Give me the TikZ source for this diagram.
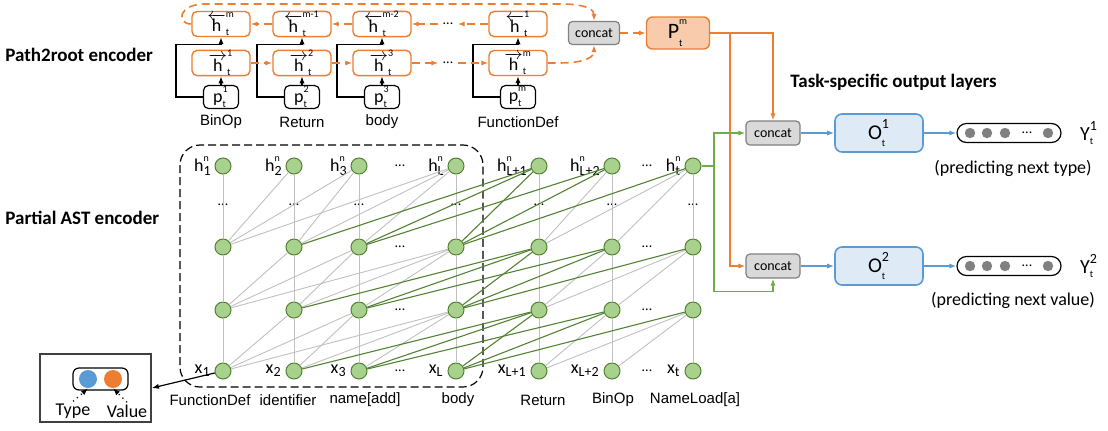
\documentclass[tikz,border=0pt]{standalone}
\usepackage{fontspec}
\setmainfont{Carlito}
\newfontfamily\arialfont{Liberation Sans}
\usetikzlibrary{arrows.meta,calc}
\definecolor{orng}{HTML}{ED7D31}
\definecolor{peach}{HTML}{F8CBAD}
\definecolor{leaf}{HTML}{A9D18E}
\definecolor{moss}{HTML}{548235}
\definecolor{grass}{HTML}{70AD47}
\definecolor{sky}{HTML}{5B9BD5}
\definecolor{ice}{HTML}{DEEBF7}
\definecolor{ash}{HTML}{D9D9D9}
\definecolor{lgray}{HTML}{C0C0C0}
\newcommand{\supsub}[3]{\ensuremath{\hbox{#1}^{\raisebox{1.2pt}{#2}}_{\raisebox{-0.6pt}{#3}}}}
\newcommand{\subonly}[2]{\ensuremath{\hbox{#1}_{\hbox{#2}}}}
\newcommand{\hbw}[1]{\ensuremath{\overleftarrow{\hbox{h}}^{\raisebox{1pt}{\tiny #1}}_{\raisebox{-0.6pt}{\tiny t}}}}
\newcommand{\hfw}[1]{\ensuremath{\overrightarrow{\hbox{h}}^{\raisebox{1pt}{\tiny #1}}_{\raisebox{-0.6pt}{\tiny t}}}}
\begin{document}
\begin{tikzpicture}[x=0.5pt,y=-0.5pt,>={Latex[length=3.5pt,width=2.6pt]},
  hidbox/.style={draw=orng,line width=0.7pt,rounded corners=2.5pt,fill=white,minimum width=29pt,minimum height=12.5pt,inner sep=0pt,font=\fontsize{9}{10}\selectfont},
  pathbox/.style={draw=black,line width=0.6pt,rounded corners=2.5pt,minimum width=17.5pt,minimum height=11.5pt,inner sep=0pt,font=\fontsize{9}{10}\selectfont},
  catbox/.style={draw=black!50,fill=ash,line width=0.6pt,rounded corners=2pt,minimum width=27pt,minimum height=12pt,inner sep=0pt,font=\fontsize{7}{8}\selectfont},
  pmbox/.style={draw=orng,fill=peach,line width=0.7pt,rounded corners=3pt,minimum width=31.5pt,minimum height=16pt,inner sep=0pt},
  outbox/.style={draw=sky,fill=ice,line width=0.8pt,rounded corners=3.5pt,minimum width=44pt,minimum height=19pt,inner sep=0pt},
  pill/.style={draw=black,line width=0.6pt,rounded corners=4.75pt,minimum width=52pt,minimum height=9.5pt,inner sep=0pt},
  neuron/.style={circle,draw=moss,fill=leaf,line width=0.5pt,minimum size=8pt,inner sep=0pt},
  dots/.style={font=\fontsize{7}{8}\selectfont,inner sep=2pt},
  word/.style={font=\arialfont\fontsize{7.5}{9}\selectfont},
  note/.style={font=\fontsize{9}{10}\selectfont},
  head/.style={font=\bfseries\fontsize{9.5}{11}\selectfont,anchor=west,inner sep=0pt},
  hlab/.style={font=\fontsize{9}{10}\selectfont,anchor=east,inner sep=0pt},
  feed/.style={draw=black,line width=0.6pt,->},
  fwd/.style={draw=orng,line width=0.8pt,dash pattern=on 4pt off 2.5pt,->},
  oline/.style={draw=orng,line width=0.7pt,->},
  gline/.style={draw=grass,line width=0.7pt},
  bline/.style={draw=sky,line width=0.7pt,->},
  ctx/.style={draw=lgray,line width=0.45pt},
  mem/.style={draw=moss,line width=0.55pt},
  seg/.style={draw=black,line width=0.6pt,dash pattern=on 4pt off 2pt,rounded corners=10pt}]
\useasboundingbox (0,0) rectangle (1108,430);
%\draw[step=50,gray,very thin] (0,0) grid (1108,430);
\node[head] (h2r) at (5,55) {Path2root encoder};
\node[head] (past) at (5,218) {Partial AST encoder};
\node[head] (task) at (790,82) {Task-specific output layers};
\foreach \x/\i/\bsup/\fsup/\lab in {221/1/m/1/BinOp,302/2/m-1/2/Return,382/3/m-2/3/body,518/4/1/m/FunctionDef}{
  \node[hidbox] (bw\i) at (\x,24) {\hbw{\bsup}};
  \node[hidbox] (fw\i) at (\x,63) {\hfw{\fsup}};
  \node[pathbox] (p\i) at (\x,97) {\supsub{p}{\tiny\fsup}{\tiny t}};
  \node[word] (w\i) at (\x,122) {\lab};
  \draw[feed] (p\i) -- (fw\i);
  \draw[feed] (p\i.west) -- ++(-27,0) |- ($(bw\i.south)+(0,7)$) -- (bw\i.south);
}
\node[dots] (fd) at (448,63) {...};
\node[dots] (bd) at (448,24) {...};
\draw[fwd] (fw1) -- (fw2);
\draw[fwd] (fw2) -- (fw3);
\draw[fwd] (fw3) -- (fd);
\draw[fwd] (fd) -- (fw4);
\draw[fwd] (bw4) -- (bd);
\draw[fwd] (bd) -- (bw3);
\draw[fwd] (bw3) -- (bw2);
\draw[fwd] (bw2) -- (bw1);
\node[catbox,minimum width=25.5pt,minimum height=11.5pt] (cat) at (594,33) {concat};
\node[pmbox] (pm) at (678,33) {\ensuremath{\hbox{\fontsize{11}{11}\selectfont P}^{\raisebox{2.2pt}{\tiny m}}_{\raisebox{-1.4pt}{\tiny t}}}};
\draw[fwd] (bw1.west) .. controls (176,24) and (178,4) .. (205,4) -- (560,4) .. controls (588,4) and (594,10) .. (cat.north);
\draw[fwd] (fw4.east) -- (558,63) .. controls (588,63) and (594,56) .. (cat.south);
\draw[fwd] (cat) -- (pm);
% output layers
\node[catbox] (c1) at (773,133) {concat};
\node[catbox] (c2) at (773,266) {concat};
\node[outbox] (o1) at (879,133) {\supsub{\fontsize{10.5}{11}\selectfont O}{\scriptsize 1}{\tiny t}};
\node[outbox] (o2) at (879,266) {\supsub{\fontsize{10.5}{11}\selectfont O}{\scriptsize 2}{\tiny t}};
\node[pill] (y1) at (1009,133) {};
\node[pill] (y2) at (1009,266) {};
\foreach \k in {1,2}{
  \foreach \d in {-39,-22,-4,39}
    \fill[black!50] ($(y\k)+(\d,0)$) circle (2.6pt);
  \node[dots,inner sep=0pt] (yd\k) at ($(y\k)+(18,0)$) {...};
}
\node[note] (yl1) at (1089,133) {\supsub{\fontsize{10}{11}\selectfont Y}{\scriptsize 1}{\tiny t}};
\node[note] (yl2) at (1089,266) {\supsub{\fontsize{10}{11}\selectfont Y}{\scriptsize 2}{\tiny t}};
\node[note] (pr1) at (1013,168) {(predicting next type)};
\node[note] (pr2) at (1013,300) {(predicting next value)};
\draw[bline] (c1) -- (o1);
\draw[bline] (o1) -- (y1);
\draw[bline] (c2) -- (o2);
\draw[bline] (o2) -- (y2);
\draw[oline] (pm.east) -| (c1.north);
\coordinate (ob) at (730,33);
\draw[oline] (ob) |- (c2.west);
% partial AST encoder
\draw[seg] (180,145) rectangle (483,387);
\foreach \x/\s/\lab/\lx [count=\i] in {223/1/FunctionDef/210,294/2/identifier/288,359/3/{name[add]}/365,456/L/body/458,539/L+1/Return/543,612/L+2/BinOp/613,693/t/{NameLoad[a]}/695}{
  \foreach \y [count=\r] in {166,247,310,371}
    \node[neuron] (n\i-\r) at (\x,\y) {};
  \node[hlab] (hl\i) at (\x-11,166) {\supsub{h}{\tiny n}{\scriptsize\s}};
  \node[hlab] (xl\i) at (\x-12,371) {\subonly{x}{\scriptsize\s}};
  \node[word] (t\i) at (\lx,400) {\lab};
  \node[dots] (vd\i) at (\x,205) {...};
  \draw[ctx] (n\i-1) -- (n\i-2) -- (n\i-3) -- (n\i-4);
}
\foreach \y [count=\r] in {166,247,310,371}{
  \node[dots] (da\r) at (400,\y) {...};
  \node[dots] (db\r) at (647,\y) {...};
}
\foreach \j in {2,...,7}{
  \foreach \d in {1,2,3}{
    \pgfmathtruncatemacro\i{\j-\d}
    \pgfmathtruncatemacro\m{and(\j>4,\i<5)}
    \ifnum\i>0\relax\ifnum\m=0\relax
      \foreach \r/\s in {1/2,2/3,3/4} \draw[ctx] (n\j-\r) -- (n\i-\s);
    \fi\fi
  }
}
\foreach \j in {5,6,7}{
  \foreach \d in {1,2,3}{
    \pgfmathtruncatemacro\i{\j-\d}
    \ifnum\i<5\relax
      \foreach \r/\s in {1/2,2/3,3/4} \draw[mem] (n\j-\r) -- (n\i-\s);
    \fi
  }
}
\coordinate (gj) at (714,166);
\draw[gline] (n7-1) -- (gj);
\draw[gline,->] (gj) |- (c1.west);
\draw[gline,->] (gj) |- ($(c2.south)+(0,13)$) -- (c2.south);
% legend
\node[draw=black!75,line width=0.9pt,minimum width=55.5pt,minimum height=34pt,inner sep=0pt] (leg) at (95.5,388) {};
\node[draw=black,line width=0.6pt,rounded corners=3pt,minimum width=27.5pt,minimum height=11pt,inner sep=0pt] (lp) at (100.5,379) {};
\node[circle,fill=sky,minimum size=9pt,inner sep=0pt] (tdot) at (88,379) {};
\node[circle,fill=orng,minimum size=9pt,inner sep=0pt] (vdot) at (113,379) {};
\node[note,inner sep=1pt] (tl) at (73,411) {Type};
\node[note,inner sep=1pt] (vl) at (127,411) {Value};
\draw[dotted,line width=0.6pt,->] (tl.north) -- (tdot.south);
\draw[dotted,line width=0.6pt,->] (vl.north) -- (vdot.south);
\draw[feed] (n1-4) -- (leg.east);
\end{tikzpicture}
\end{document}
